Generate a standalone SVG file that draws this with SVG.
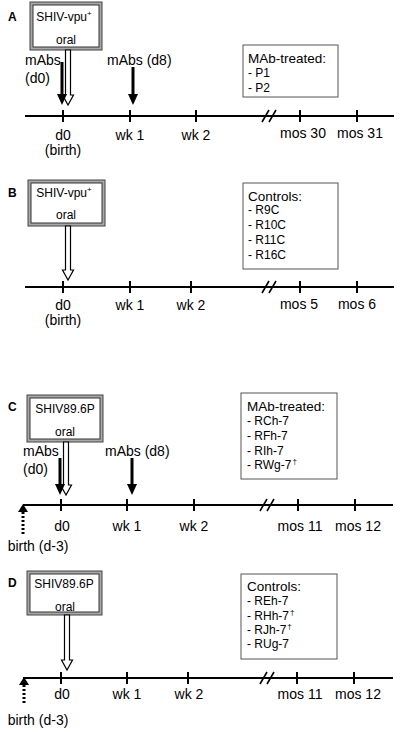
<svg xmlns="http://www.w3.org/2000/svg" xmlns:xlink="http://www.w3.org/1999/xlink" width="400" height="732" viewBox="0 0 400 732">
<style>
text{font-family:"Liberation Sans",Arial,sans-serif;fill:#000}
.lbl{font-size:12px;font-weight:bold}
.ax{font-size:14px;text-anchor:middle}
.mab{font-size:14px}
.bx{font-size:12px;text-anchor:middle}
.hd{font-size:13.5px}
.it{font-size:12px}
.sup{font-size:8px}
.axis{stroke:#000;stroke-width:2;fill:none}
.tick{stroke:#000;stroke-width:2}
.brk{stroke:#000;stroke-width:1.6}
.outer{fill:#a8a8a8;stroke:#444;stroke-width:1}
.inner{fill:#fff;stroke:#333;stroke-width:1}
.list{fill:#fff;stroke:#555;stroke-width:1}
.hollow{fill:#fff;stroke:#000;stroke-width:1.2}
.shaft{stroke:#000;stroke-width:3}
.dot{stroke:#000;stroke-width:3;stroke-dasharray:2 2}
</style>
<defs>
<path id="bh" d="M-5,-11 L5,-11 L0,0 Z" fill="#000"/>
<path id="uh" d="M-5,8 L5,8 L0,0 Z" fill="#000"/>
</defs>

<!-- Panel A -->
<g id="panelA">
<text class="lbl" x="8" y="21">A</text>
<g id="A-virus">
<rect class="outer" x="30" y="2" width="72" height="48"/>
<rect class="inner" x="33" y="5" width="66" height="42"/>
<text class="bx" x="64" y="21">SHIV-vpu<tspan class="sup" dy="-5">+</tspan></text>
<text class="bx" x="66" y="44">oral</text>
</g>
<g id="A-list">
<rect class="list" x="243" y="45" width="95" height="52"/>
<text class="hd" x="248" y="63">MAb-treated:</text>
<text class="it" x="248" y="77">- P1</text>
<text class="it" x="248" y="92">- P2</text>
</g>
<g id="A-axis">
<line class="axis" x1="25" y1="116" x2="394" y2="116"/>
<line class="tick" x1="63" y1="110" x2="63" y2="122"/>
<line class="tick" x1="130" y1="110" x2="130" y2="122"/>
<line class="tick" x1="196" y1="110" x2="196" y2="122"/>
<line class="tick" x1="300" y1="110" x2="300" y2="122"/>
<line class="tick" x1="357" y1="110" x2="357" y2="122"/>
<line class="brk" x1="262" y1="122" x2="269" y2="110"/>
<line class="brk" x1="269" y1="122" x2="276" y2="110"/>
<text class="ax" x="63" y="140">d0</text>
<text class="ax" x="63" y="155">(birth)</text>
<text class="ax" x="130" y="140">wk 1</text>
<text class="ax" x="196" y="140">wk 2</text>
<text class="ax" x="303" y="138">mos 30</text>
<text class="ax" x="360" y="138">mos 31</text>
<text class="mab" x="25" y="65">mAbs</text>
<text class="mab" x="25" y="83">(d0)</text>
<text class="mab" x="107" y="65">mAbs (d8)</text>
</g>
</g>

<!-- Panel B -->
<g id="panelB">
<text class="lbl" x="8" y="197">B</text>
<g id="B-virus">
<rect class="outer" x="28" y="180" width="77" height="46"/>
<rect class="inner" x="31" y="183" width="71" height="40"/>
<text class="bx" x="64" y="197">SHIV-vpu<tspan class="sup" dy="-5">+</tspan></text>
<text class="bx" x="66" y="219">oral</text>
</g>
<g id="B-list">
<rect class="list" x="243" y="183" width="95" height="86"/>
<text class="hd" x="248" y="201">Controls:</text>
<text class="it" x="248" y="214">- R9C</text>
<text class="it" x="248" y="229">- R10C</text>
<text class="it" x="248" y="244">- R11C</text>
<text class="it" x="248" y="259">- R16C</text>
</g>
<g id="B-axis">
<line class="axis" x1="25" y1="287" x2="394" y2="287"/>
<line class="tick" x1="63" y1="281" x2="63" y2="293"/>
<line class="tick" x1="130" y1="281" x2="130" y2="293"/>
<line class="tick" x1="191" y1="281" x2="191" y2="293"/>
<line class="tick" x1="300" y1="281" x2="300" y2="293"/>
<line class="tick" x1="357" y1="281" x2="357" y2="293"/>
<line class="brk" x1="262" y1="293" x2="269" y2="281"/>
<line class="brk" x1="269" y1="293" x2="276" y2="281"/>
<text class="ax" x="63" y="310">d0</text>
<text class="ax" x="63" y="325">(birth)</text>
<text class="ax" x="130" y="310">wk 1</text>
<text class="ax" x="191" y="310">wk 2</text>
<text class="ax" x="299" y="309">mos 5</text>
<text class="ax" x="357" y="309">mos 6</text>
</g>
</g>

<!-- Panel C -->
<g id="panelC">
<text class="lbl" x="8" y="411">C</text>
<g id="C-virus">
<rect class="outer" x="27" y="395" width="76" height="47"/>
<rect class="inner" x="30" y="398" width="70" height="41"/>
<text class="bx" x="65" y="413">SHIV89.6P</text>
<text class="bx" x="65" y="436">oral</text>
</g>
<g id="C-list">
<rect class="list" x="241" y="393" width="96" height="86"/>
<text class="hd" x="247" y="411">MAb-treated:</text>
<text class="it" x="247" y="425">- RCh-7</text>
<text class="it" x="247" y="440">- RFh-7</text>
<text class="it" x="247" y="455">- RIh-7</text>
<text class="it" x="247" y="469">- RWg-7<tspan class="sup" dx="1" dy="-5">†</tspan></text>
</g>
<g id="C-axis">
<line class="axis" x1="23" y1="505" x2="393" y2="505"/>
<line class="tick" x1="61" y1="499" x2="61" y2="511"/>
<line class="tick" x1="127" y1="499" x2="127" y2="511"/>
<line class="tick" x1="194" y1="499" x2="194" y2="511"/>
<line class="tick" x1="298" y1="499" x2="298" y2="511"/>
<line class="tick" x1="355" y1="499" x2="355" y2="511"/>
<line class="brk" x1="260" y1="511" x2="267" y2="499"/>
<line class="brk" x1="267" y1="511" x2="274" y2="499"/>
<text class="ax" x="62" y="531">d0</text>
<text class="ax" x="127" y="531">wk 1</text>
<text class="ax" x="194" y="531">wk 2</text>
<text class="ax" x="300" y="531">mos 11</text>
<text class="ax" x="358" y="531">mos 12</text>
<text class="ax" x="38" y="551">birth (d-3)</text>
<text class="mab" x="23" y="456">mAbs</text>
<text class="mab" x="23" y="474">(d0)</text>
<text class="mab" x="105" y="456">mAbs (d8)</text>
</g>
</g>

<!-- Panel D -->
<g id="panelD">
<text class="lbl" x="8" y="587">D</text>
<g id="D-virus">
<rect class="outer" x="27" y="571" width="75" height="44"/>
<rect class="inner" x="30" y="574" width="69" height="38"/>
<text class="bx" x="64" y="588">SHIV89.6P</text>
<text class="bx" x="65" y="611">oral</text>
</g>
<g id="D-list">
<rect class="list" x="241" y="574" width="96" height="85"/>
<text class="hd" x="247" y="591">Controls:</text>
<text class="it" x="247" y="605">- REh-7</text>
<text class="it" x="247" y="620">- RHh-7<tspan class="sup" dx="1" dy="-5">†</tspan></text>
<text class="it" x="247" y="634">- RJh-7<tspan class="sup" dx="1" dy="-5">†</tspan></text>
<text class="it" x="247" y="648">- RUg-7</text>
</g>
<g id="D-axis">
<line class="axis" x1="23" y1="678" x2="393" y2="678"/>
<line class="tick" x1="61" y1="672" x2="61" y2="684"/>
<line class="tick" x1="127" y1="672" x2="127" y2="684"/>
<line class="tick" x1="188" y1="672" x2="188" y2="684"/>
<line class="tick" x1="297" y1="672" x2="297" y2="684"/>
<line class="tick" x1="354" y1="672" x2="354" y2="684"/>
<line class="brk" x1="260" y1="684" x2="267" y2="672"/>
<line class="brk" x1="267" y1="684" x2="274" y2="672"/>
<text class="ax" x="62" y="699">d0</text>
<text class="ax" x="127" y="699">wk 1</text>
<text class="ax" x="189" y="699">wk 2</text>
<text class="ax" x="300" y="699">mos 11</text>
<text class="ax" x="358" y="699">mos 12</text>
<text class="ax" x="38" y="725">birth (d-3)</text>
</g>
</g>

<!-- Connectors -->
<g id="connectors">
<!-- A -->
<polygon class="hollow" points="65.5,50 70.5,50 70.5,95 73.5,95 68,105 62.5,95 65.5,95"/>
<line class="shaft" x1="62" y1="62" x2="62" y2="95"/>
<use href="#bh" x="62" y="105"/>
<line class="shaft" x1="133" y1="67" x2="133" y2="95"/>
<use href="#bh" x="133" y="105"/>
<!-- B -->
<polygon class="hollow" points="65.5,226 70.5,226 70.5,270 73.5,270 68,280 62.5,270 65.5,270"/>
<!-- C -->
<polygon class="hollow" points="63.5,442 68.5,442 68.5,485 71.5,485 66,495 60.5,485 63.5,485"/>
<line class="shaft" x1="60" y1="458" x2="60" y2="485"/>
<use href="#bh" x="60" y="495"/>
<line class="shaft" x1="132" y1="458" x2="132" y2="485"/>
<use href="#bh" x="132" y="495"/>
<line class="dot" x1="23" y1="512" x2="23" y2="535"/>
<use href="#uh" x="23" y="504"/>
<!-- D -->
<polygon class="hollow" points="64.5,615 69.5,615 69.5,660 72.5,660 67,670 61.5,660 64.5,660"/>
<line class="dot" x1="24" y1="685" x2="24" y2="703"/>
<use href="#uh" x="24" y="677"/>
</g>
</svg>
